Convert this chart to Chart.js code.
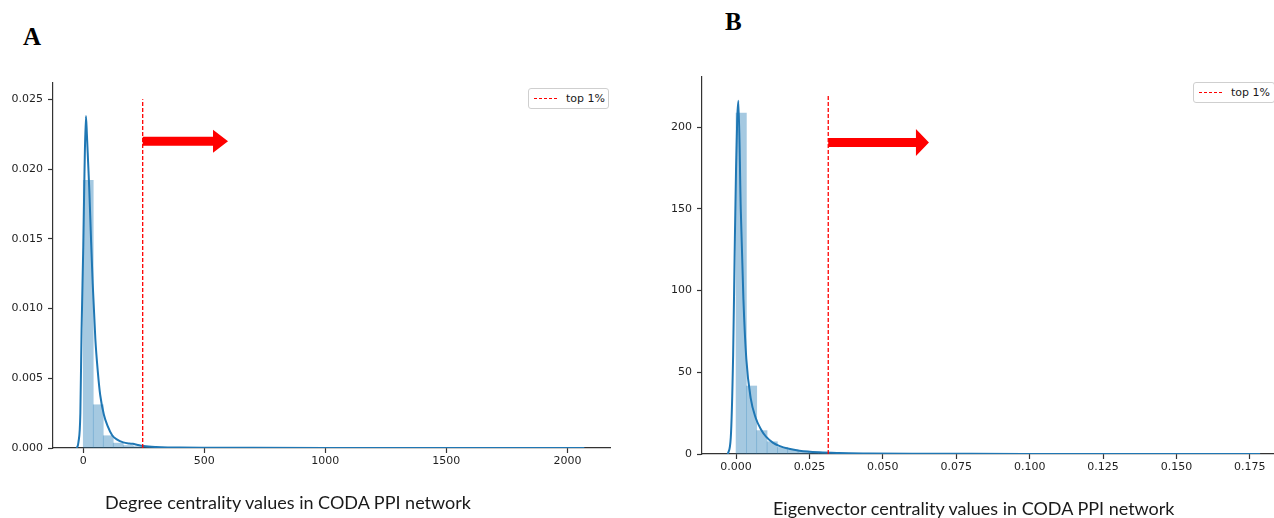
<!DOCTYPE html>
<html lang="en">
<head>
<meta charset="UTF-8">
<title>Degree and eigenvector centrality in CODA PPI network</title>
<script src="https://cdn.jsdelivr.net/npm/chart.js@4.4.1/dist/chart.umd.min.js"></script>
<style>
    body {
        margin: 0;
        width: 1274px;
        height: 518px;
        overflow: hidden;
        position: relative;
        background: #fff;
        font-family: 'DejaVu Sans', sans-serif;
    }
    canvas { position: absolute; top: 0; }
    #chartA { left: 0; }
    #chartB { left: 640px; }
    .panel-label {
        position: absolute;
        font-family: 'Liberation Serif', 'Times New Roman', serif;
        font-weight: bold;
        font-size: 25px;
        line-height: 1;
        color: #000;
    }
    .axis-title {
        position: absolute;
        font-family: Lato, 'Open Sans', sans-serif;
        font-size: 18px;
        line-height: 1;
        color: #1a1a1a;
        white-space: nowrap;
    }
    .legend {
        position: absolute;
        height: 19px;
        border: 1px solid #cfcfcf;
        border-radius: 3px;
        background: #fff;
        font-size: 11px;
        color: #1a1a1a;
        white-space: nowrap;
    }
    .legend .dash {
        position: absolute;
        left: 5px;
        top: 9px;
        width: 23px;
        border-top: 1.3px dashed #ff0000;
    }
    .legend .txt {
        position: absolute;
        left: 37px;
        top: 3px;
    }
</style>
</head>
<body>
    <div class="panel-label" style="left:23px; top:24px;">A</div>
    <div class="panel-label" style="left:725px; top:9px;">B</div>

    <canvas id="chartA" width="640" height="518"></canvas>
    <canvas id="chartB" width="660" height="518"></canvas>

    <div class="legend" style="left:528px; top:88px; width:79px;">
        <div class="dash"></div><div class="txt">top 1%</div>
    </div>
    <div class="legend" style="left:1193px; top:82px; width:80px;">
        <div class="dash"></div><div class="txt">top 1%</div>
    </div>

    <div class="axis-title" id="titleA" style="left:105px; top:493px;">Degree centrality values in CODA PPI network</div>
    <div class="axis-title" id="titleB" style="left:773px; top:499px;">Eigenvector centrality values in CODA PPI network</div>

<script>
    // ---- panel A: degree centrality ----
    const degBinLeft = [0, 41.3, 82.6, 123.9, 165.2, 206.5, 247.8, 289.1, 330.4, 371.7, 413, 454.3];
    const degBinWidth = 41.3;
    const degDensity = [0.0192, 0.0031, 0.00088, 0.00035, 0.00018, 0.0001, 0.00008, 0.00006, 0.00004, 0.00003, 0.00002, 0.00002];
    const degKdeX = [-27, -20, -12, -7, 0, 5, 11, 15, 20, 25, 32, 39, 50, 60, 70, 85, 100, 120, 140, 165, 190, 205, 225, 250, 300, 350, 400, 500, 700, 1000, 1500, 2070];
    const degKdeY = [0, 0.0004, 0.0025, 0.0084, 0.0144, 0.0197, 0.0238, 0.0225, 0.0205, 0.0185, 0.015, 0.0118, 0.0078, 0.0055, 0.0038, 0.0024, 0.0016, 0.0009, 0.0006, 0.0004, 0.00032, 0.0003, 0.00022, 0.00014, 0.00007, 0.00004, 0.00003, 0.00002, 0.00001, 0.000005, 0.000003, 0];
    const degTop1 = 245.5;
    const degTop1Height = 0.025;
    const degArrow = { from: 245.5, to: 598, y: 0.022 };
    const degXTicks = [0, 500, 1000, 1500, 2000];
    const degYTicks = [0, 0.005, 0.010, 0.015, 0.020, 0.025];

    // ---- panel B: eigenvector centrality ----
    const eigBinLeft = [0, 0.00352, 0.00704, 0.01056, 0.01408, 0.0176, 0.02112, 0.02464, 0.02816, 0.03168, 0.0352, 0.03872];
    const eigBinWidth = 0.00352;
    const eigDensity = [208.6, 41.6, 14.3, 7.5, 4, 2.5, 1.8, 1.2, 0.9, 0.6, 0.4, 0.3];
    const eigKdeX = [-0.0028, -0.0018, -0.001, -0.0005, 0, 0.0004, 0.0008, 0.0016, 0.0025, 0.0035, 0.005, 0.0067, 0.0085, 0.0102, 0.0125, 0.0147, 0.018, 0.0216, 0.0284, 0.035, 0.045, 0.06, 0.08, 0.1, 0.13, 0.16, 0.1785];
    const eigKdeY = [0, 10, 60, 120, 175, 205, 216, 150, 95, 58, 34, 22, 15, 10.6, 7, 5, 3.2, 2, 1, 0.6, 0.35, 0.15, 0.08, 0.05, 0.03, 0.02, 0];
    const eigTop1 = 0.0314;
    const eigTop1Height = 220;
    const eigArrow = { from: 0.0314, to: 0.0657, y: 190.5 };
    const eigXTicks = [0, 0.025, 0.05, 0.075, 0.1, 0.125, 0.15, 0.175];
    const eigYTicks = [0, 50, 100, 150, 200];

    const histColor = 'rgba(31, 119, 180, 0.4)';
    const kdeColor = '#1f77b4';
    const axisColor = '#333333';
    const tickFont = { family: 'DejaVu Sans', size: 11 };

    // red block arrow, drawn in data coordinates
    const arrowPlugin = {
        id: 'arrow',
        afterDatasetsDraw(chart, args, opts) {
            const xs = chart.scales.x, ys = chart.scales.y;
            const x0 = xs.getPixelForValue(opts.from);
            const x1 = xs.getPixelForValue(opts.to);
            const y = ys.getPixelForValue(opts.y);
            const xh = x1 - opts.headLen;
            const ctx = chart.ctx;
            ctx.save();
            ctx.fillStyle = '#ff0000';
            ctx.beginPath();
            ctx.moveTo(x0, y - opts.shaft);
            ctx.lineTo(xh, y - opts.shaft);
            ctx.lineTo(xh, y - opts.head);
            ctx.lineTo(x1, y);
            ctx.lineTo(xh, y + opts.head);
            ctx.lineTo(xh, y + opts.shaft);
            ctx.lineTo(x0, y + opts.shaft);
            ctx.closePath();
            ctx.fill();
            ctx.restore();
        }
    };

    function makeChart(id, p) {
        const bars = p.binLeft.map((b, i) => ({ x: b + p.binWidth / 2, y: p.density[i] }));
        const kde = p.kdeX.map((x, i) => ({ x: x, y: p.kdeY[i] }));
        return new Chart(document.getElementById(id), {
            type: 'bar',
            data: {
                datasets: [
                    {
                        type: 'bar',
                        data: bars,
                        backgroundColor: histColor,
                        borderWidth: 0,
                        barPercentage: 1,
                        categoryPercentage: 1,
                        order: 3
                    },
                    {
                        type: 'line',
                        data: kde,
                        borderColor: kdeColor,
                        borderWidth: 2,
                        pointRadius: 0,
                        cubicInterpolationMode: 'monotone',
                        fill: false,
                        order: 2
                    },
                    {
                        type: 'line',
                        label: 'top 1%',
                        data: [{ x: p.top1, y: 0 }, { x: p.top1, y: p.top1Height }],
                        borderColor: '#ff0000',
                        borderWidth: 1.3,
                        borderDash: [4, 2],
                        pointRadius: 0,
                        fill: false,
                        order: 1
                    }
                ]
            },
            options: {
                responsive: false,
                animation: false,
                layout: { padding: p.padding },
                plugins: {
                    legend: { display: false },
                    tooltip: { enabled: false },
                    arrow: Object.assign({ shaft: 4.5 }, p.arrow)
                },
                scales: {
                    x: {
                        type: 'linear',
                        offset: false,
                        min: p.xMin,
                        max: p.xMax,
                        afterBuildTicks: s => { s.ticks = p.xTicks.map(v => ({ value: v })); },
                        afterFit: s => { s.height = p.xAxisHeight; },
                        grid: { offset: false, drawOnChartArea: false, tickLength: 5, tickColor: axisColor, tickWidth: 1.2 },
                        border: { color: axisColor, width: 1.2 },
                        ticks: {
                            color: '#1f1f1f',
                            font: tickFont,
                            padding: 2,
                            maxRotation: 0,
                            callback: p.xFormat
                        }
                    },
                    y: {
                        type: 'linear',
                        min: 0,
                        max: p.yMax,
                        afterBuildTicks: s => { s.ticks = p.yTicks.map(v => ({ value: v })); },
                        afterFit: s => { s.width = p.yAxisWidth; },
                        grid: { drawOnChartArea: false, tickLength: 5, tickColor: axisColor, tickWidth: 1.2 },
                        border: { color: axisColor, width: 1.2 },
                        ticks: {
                            color: '#1f1f1f',
                            font: tickFont,
                            padding: 5,
                            callback: p.yFormat
                        }
                    }
                }
            },
            plugins: [arrowPlugin]
        });
    }

    makeChart('chartA', {
        binLeft: degBinLeft, binWidth: degBinWidth, density: degDensity,
        kdeX: degKdeX, kdeY: degKdeY,
        top1: degTop1, top1Height: degTop1Height,
        arrow: { from: degArrow.from, to: degArrow.to, y: degArrow.y, headLen: 15, head: 11.5 },
        xTicks: degXTicks, yTicks: degYTicks,
        xMin: -125, xMax: 2176, yMax: 0.02617,
        xFormat: v => String(v),
        yFormat: v => v.toFixed(3),
        padding: { left: 0, top: 83, right: 30, bottom: 0 },
        yAxisWidth: 53, xAxisHeight: 70
    });

    makeChart('chartB', {
        binLeft: eigBinLeft, binWidth: eigBinWidth, density: eigDensity,
        kdeX: eigKdeX, kdeY: eigKdeY,
        top1: eigTop1, top1Height: eigTop1Height,
        arrow: { from: eigArrow.from, to: eigArrow.to, y: eigArrow.y, headLen: 13, head: 13.5 },
        xTicks: eigXTicks, yTicks: eigYTicks,
        xMin: -0.0116, xMax: 0.1863, yMax: 230.6,
        xFormat: v => v.toFixed(3),
        yFormat: v => String(v),
        padding: { left: 0, top: 77, right: 17, bottom: 0 },
        yAxisWidth: 62, xAxisHeight: 64
    });
</script>
</body>
</html>
